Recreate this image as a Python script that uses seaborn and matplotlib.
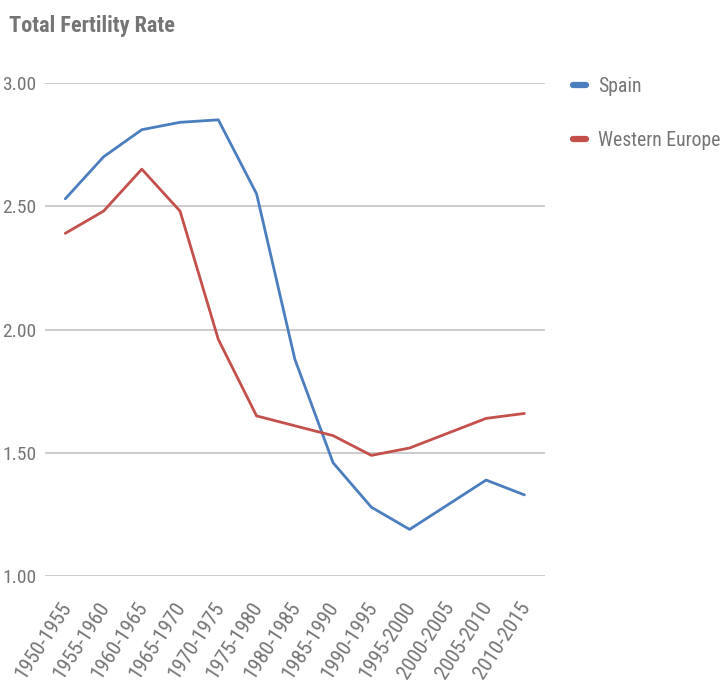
import matplotlib
matplotlib.use("Agg")
import matplotlib.pyplot as plt
import seaborn as sns
import pandas as pd
from matplotlib.lines import Line2D
from matplotlib import font_manager

periods = ["1950-1955", "1955-1960", "1960-1965", "1965-1970", "1970-1975",
           "1975-1980", "1980-1985", "1985-1990", "1990-1995", "1995-2000",
           "2000-2005", "2005-2010", "2010-2015"]
spain = [2.53, 2.70, 2.81, 2.84, 2.85, 2.55, 1.88, 1.46, 1.28, 1.19, 1.29, 1.39, 1.33]
western_europe = [2.39, 2.48, 2.65, 2.48, 1.96, 1.65, 1.61, 1.57, 1.49, 1.52, 1.58, 1.64, 1.66]
series_names = ["Spain", "Western Europe"]
y_ticks = [1.00, 1.50, 2.00, 2.50, 3.00]
colors = ["#4a7ebf", "#c4504c"]

df = pd.DataFrame({
    "period": periods * 2,
    "idx": list(range(len(periods))) * 2,
    "value": spain + western_europe,
    "series": [series_names[0]] * len(periods) + [series_names[1]] * len(periods),
})

names = {f.name for f in font_manager.fontManager.ttflist}
narrow = [n for n in ["Roboto Condensed", "Liberation Sans Narrow", "DejaVu Sans Condensed"] if n in names]
fam = narrow[0] if narrow else "Roboto"

sns.set_style("white")
plt.rcParams["font.family"] = [fam, "DejaVu Sans"]

fig = plt.figure(figsize=(7.2, 6.96), dpi=100)
ax = fig.add_axes([0.0625, 0.172, 0.694, 0.709])

sns.lineplot(data=df, x="idx", y="value", hue="series", palette=colors,
             linewidth=2.0, ax=ax, legend=False, sort=False)

ax.set_ylim(1.0, 3.0)
ax.set_xlim(-0.53, len(periods) - 1 + 0.53)
ax.set_yticks(y_ticks)
ax.set_yticklabels([f"{v:.2f}" for v in y_ticks])
ax.set_xticks(range(len(periods)))
ax.set_xticklabels(periods, rotation=57, ha="right", va="center_baseline",
                   rotation_mode="anchor")
ax.grid(axis="y", color="#cccccc", linewidth=1.4)
ax.set_axisbelow(True)
for s in ax.spines.values():
    s.set_visible(False)
ax.tick_params(axis="both", length=0, colors="#757575")
ax.tick_params(axis="y", pad=6, labelsize=14)
ax.tick_params(axis="x", pad=19, labelsize=15)
ax.set_xlabel("")
ax.set_ylabel("")

fig.text(0.013, 0.963, "Total Fertility Rate", fontsize=16, fontweight="bold",
         color="#757575", ha="left", va="center")

handles = [Line2D([0], [0], color=c, linewidth=4.5, solid_capstyle="round") for c in colors]
leg = ax.legend(handles, series_names, loc="upper left", bbox_to_anchor=(1.036, 1.032),
                frameon=False, borderpad=0, handlelength=0.7, handletextpad=0.6,
                labelspacing=1.8, fontsize=14.2)
for t in leg.get_texts():
    t.set_color("#757575")

fig.savefig("out.png", dpi=100, facecolor="white")
